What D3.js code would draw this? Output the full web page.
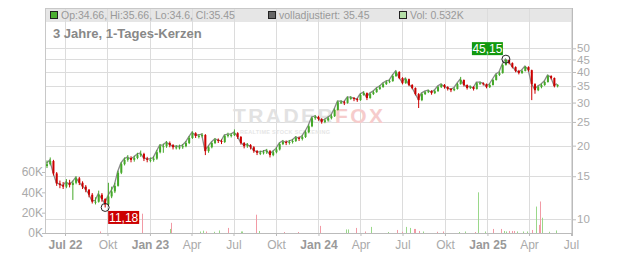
<!DOCTYPE html>
<html>
<head>
<meta charset="utf-8">
<script src="https://cdn.jsdelivr.net/npm/d3@7"></script>
<style>
  html, body { margin: 0; padding: 0; background: #fff; }
  svg { display: block; font-family: Arial, "Liberation Sans", sans-serif; }
</style>
</head>
<body>
<div id="chart"></div>
<script>
// weekly candles (open = previous close)
const candleStart = '2022-05-23';
const firstOpen = 16.5;
const closes = [
  16.8, 17.3, 15.4, 14.0, 13.8, 13.6, 14.1, 13.8, 14.1, 14.7,
  14.1, 13.6, 13.2, 12.6, 11.8, 11.8, 12.6, 12.1, 11.5, 12.4,
  13.0, 13.7, 15.5, 16.8, 17.5, 17.8, 17.5, 17.8, 18.3, 18.5,
  17.7, 17.5, 17.5, 17.7, 18.8, 19.9, 19.9, 20.5, 20.1, 19.7,
  19.7, 19.7, 19.9, 20.5, 21.5, 22.5, 21.9, 21.9, 22.1, 19.0,
  19.7, 20.5, 21.1, 20.9, 20.7, 21.9, 22.1, 22.1, 22.5, 21.7,
  20.5, 19.9, 20.1, 19.7, 19.0, 18.7, 18.7, 18.8, 19.0, 18.3,
  18.8, 19.3, 20.3, 20.7, 20.5, 20.7, 20.9, 21.5, 21.3, 21.7,
  22.7, 24.0, 25.9, 26.2, 25.7, 25.0, 25.4, 25.9, 26.4, 28.0,
  30.1, 30.1, 29.9, 31.3, 31.3, 31.0, 30.7, 32.2, 32.8, 31.3,
  32.5, 33.1, 34.1, 34.7, 35.7, 36.4, 36.7, 38.5, 40.0, 37.8,
  36.0, 37.4, 35.4, 34.4, 32.5, 30.7, 32.5, 33.1, 33.4, 32.8,
  33.4, 34.7, 35.4, 34.7, 34.1, 33.7, 34.1, 35.7, 37.1, 35.4,
  34.4, 34.7, 34.1, 36.0, 36.0, 35.7, 34.7, 35.4, 37.1, 38.9,
  39.6, 42.7, 44.8, 43.5, 41.9, 40.4, 39.6, 40.4, 41.9, 40.7,
  35.7, 33.7, 34.7, 35.4, 36.4, 38.5, 37.8, 35.0, 35.45
];
const highs = [
  17.4, 17.9, 17.5, 15.6, 14.4, 14.2, 14.6, 14.5, 14.4, 15.0,
  14.9, 14.3, 13.8, 13.3, 12.8, 12.3, 13.1, 12.8, 12.2, 14.1,
  13.6, 14.1, 15.8, 17.1, 17.9, 18.3, 18.1, 18.2, 18.7, 19.1,
  18.7, 18.0, 17.9, 18.1, 19.2, 20.3, 20.4, 20.9, 20.8, 20.3,
  20.1, 20.2, 20.3, 20.9, 21.9, 22.9, 22.7, 22.3, 22.5, 22.3,
  20.0, 20.8, 21.5, 21.4, 21.2, 22.2, 22.6, 22.5, 23.3, 22.7,
  21.9, 20.7, 20.5, 20.3, 19.9, 19.2, 19.1, 19.2, 19.4, 19.2,
  19.1, 19.7, 20.6, 21.1, 21.0, 21.1, 21.3, 21.9, 21.8, 22.1,
  23.1, 24.4, 26.3, 26.7, 26.5, 25.9, 25.8, 26.3, 26.9, 28.4,
  30.6, 30.7, 30.5, 31.8, 31.9, 31.6, 31.3, 32.7, 33.4, 33.0,
  32.9, 33.6, 34.6, 35.3, 36.2, 37.0, 37.3, 39.1, 40.6, 40.3,
  38.1, 37.9, 37.6, 35.7, 34.6, 32.8, 32.9, 33.5, 33.9, 33.7,
  33.8, 35.1, 35.9, 35.7, 35.0, 34.4, 34.6, 36.1, 38.2, 37.3,
  35.6, 35.2, 35.0, 36.4, 36.6, 36.3, 35.9, 35.9, 37.5, 39.4,
  40.2, 43.3, 45.15, 45.0, 43.8, 42.2, 40.8, 40.9, 42.4, 42.2,
  40.9, 36.0, 35.2, 35.9, 36.9, 39.0, 38.8, 38.0, 35.66
];
const lows = [
  16.2, 16.6, 15.1, 13.7, 13.4, 13.3, 13.4, 13.5, 12.0, 13.9,
  13.8, 13.3, 12.9, 12.3, 11.6, 11.5, 11.7, 11.8, 11.18, 11.4,
  12.2, 12.8, 13.6, 15.3, 16.6, 17.2, 17.1, 17.2, 17.6, 18.0,
  17.3, 17.1, 17.1, 17.2, 17.5, 18.6, 18.7, 19.6, 19.7, 19.3,
  19.3, 19.3, 19.4, 19.7, 20.3, 21.3, 21.5, 21.4, 21.6, 18.3,
  18.7, 19.5, 20.3, 20.5, 20.3, 20.5, 21.6, 21.6, 21.9, 21.3,
  20.2, 19.5, 19.6, 19.3, 18.7, 18.3, 18.3, 18.4, 18.5, 17.9,
  18.1, 18.6, 19.1, 20.1, 20.1, 20.2, 20.4, 20.7, 20.9, 21.0,
  21.5, 22.5, 23.8, 25.5, 25.3, 24.6, 24.7, 25.1, 25.6, 26.2,
  27.8, 29.6, 29.3, 29.7, 30.8, 30.4, 30.2, 30.5, 32.0, 30.7,
  31.1, 32.2, 32.9, 33.8, 34.5, 35.4, 36.0, 36.5, 38.2, 37.4,
  35.6, 35.8, 35.0, 34.0, 32.1, 28.5, 30.4, 32.2, 32.8, 32.3,
  32.5, 33.2, 34.4, 34.2, 33.6, 33.1, 33.4, 33.9, 35.5, 34.9,
  33.9, 34.1, 33.6, 33.9, 35.5, 35.2, 34.3, 34.4, 35.2, 36.9,
  38.5, 39.4, 42.5, 43.0, 41.4, 39.9, 39.1, 39.3, 40.2, 40.2,
  30.7, 32.6, 33.4, 34.3, 35.1, 36.2, 37.3, 34.6, 34.6
];

// daily volume bars that stand out (in thousands)
const volDates = [
  '2022-09-15', '2022-12-15', '2023-02-13', '2023-02-15', '2023-04-19', '2023-04-25',
  '2023-05-03', '2023-05-19', '2023-05-31', '2023-06-19', '2023-07-17', '2023-07-19',
  '2023-08-18', '2023-08-25', '2023-10-19', '2023-11-17', '2024-01-05', '2024-03-01',
  '2024-03-04', '2024-03-22', '2024-04-11', '2024-04-23', '2024-05-31', '2024-06-19',
  '2024-07-01', '2024-07-08', '2024-07-18', '2024-07-25', '2024-07-29', '2024-08-05',
  '2024-08-15', '2024-09-13', '2024-09-27', '2024-11-01', '2024-11-13', '2024-12-05',
  '2024-12-12', '2024-12-27', '2025-01-13', '2025-01-30', '2025-02-05', '2025-02-11',
  '2025-02-17', '2025-02-24', '2025-02-28', '2025-03-07', '2025-03-18', '2025-03-28',
  '2025-04-07', '2025-04-16', '2025-04-22', '2025-04-25', '2025-04-29', '2025-05-15',
  '2025-05-29'
];
const volValues = [
  1.5, 19, 4, 10, 1.5, 2.3,
  1.5, 1.2, 2.5, 5, 1.5, 1.5,
  18, 2, 1, 1, 7, 3.5,
  3.5, 5, 1.5, 6, 1, 3,
  1.2, 6, 5, 4, 4, 2,
  1.5, 1.2, 1.5, 1, 1.5, 1,
  40, 1.5, 4, 4, 2, 1.5,
  2, 2, 2, 1.5, 1.5, 1.5,
  3, 26, 8, 31, 15, 1.2,
  2.5
];
const volUp = [
  0, 0, 1, 0, 1, 1,
  0, 1, 1, 0, 1, 1,
  0, 1, 0, 0, 0, 1,
  1, 0, 0, 1, 1, 0,
  0, 1, 1, 0, 0, 0,
  1, 0, 0, 1, 1, 0,
  1, 1, 0, 0, 1, 1,
  0, 0, 0, 1, 1, 1,
  0, 1, 0, 0, 1, 1,
  1
];

const priceTicks = [10, 15, 20, 25, 30, 35, 40, 45, 50];
const volTicks = [0, 20, 40, 60];
const monthTicks = ['2022-07-01', '2022-10-01', '2023-01-01', '2023-04-01', '2023-07-01', '2023-10-01',
  '2024-01-01', '2024-04-01', '2024-07-01', '2024-10-01', '2025-01-01', '2025-04-01', '2025-07-01'];
const monthLabels = ['Jul 22', 'Okt', 'Jan 23', 'Apr', 'Jul', 'Okt', 'Jan 24', 'Apr', 'Jul', 'Okt', 'Jan 25', 'Apr', 'Jul'];
const yearLabels = ['Jul 22', 'Jan 23', 'Jan 24', 'Jan 25'];

const lowMark = { date: '2022-09-26', value: 11.18, label: '11,18' };
const highMark = { date: '2025-02-10', value: 45.15, label: '45,15' };

const legendTexts = ['Op:34.66, Hi:35.66, Lo:34.6, Cl:35.45', 'volladjustiert: 35.45', 'Vol: 0.532K'];
const legendColors = ['#4caf32', '#666666', '#b5e0a8'];
const title = '3 Jahre, 1-Tages-Kerzen';

const W = 632, H = 253;
const L = 45, R = 572, T = 8, B = 233;
const UP = '#45a829', DOWN = '#cc0000';

const parse = d3.timeParse('%Y-%m-%d');
const start = parse(candleStart);
const candles = closes.map((c, i) => ({
  date: d3.timeDay.offset(start, 7 * i),
  open: i ? closes[i - 1] : firstOpen,
  close: c,
  high: highs[i],
  low: lows[i]
}));
const vols = volDates.map((d, i) => ({ date: parse(d), v: volValues[i], up: volUp[i] }));

const x = d3.scaleTime().domain([parse('2022-07-01'), parse('2025-07-01')]).range([65, 571]);
const y = d3.scaleLog().domain([10, 50]).range([219.3, 48.3]);
const yv = d3.scaleLinear().domain([0, 60]).range([B, 172]);

const svg = d3.select('#chart').append('svg')
  .attr('width', W).attr('height', H)
  .attr('viewBox', `0 0 ${W} ${H}`);

// header band
svg.append('rect')
  .attr('x', L).attr('y', T).attr('width', R - L).attr('height', 14)
  .attr('fill', '#e6e6e6');

// grid
svg.append('g').selectAll('line')
  .data(monthTicks.map(parse))
  .join('line')
  .attr('x1', d => Math.round(x(d)) + 0.5).attr('x2', d => Math.round(x(d)) + 0.5)
  .attr('y1', T).attr('y2', B)
  .attr('stroke', '#dcdcdc');

svg.append('g').selectAll('line')
  .data(priceTicks)
  .join('line')
  .attr('x1', L).attr('x2', R)
  .attr('y1', d => Math.round(y(d)) + 0.5).attr('y2', d => Math.round(y(d)) + 0.5)
  .attr('stroke', '#dcdcdc');

// frame
svg.append('line').attr('x1', L).attr('x2', R + 0.5).attr('y1', T + 0.5).attr('y2', T + 0.5).attr('stroke', '#c8c8c8');
svg.append('line').attr('x1', L + 0.5).attr('x2', L + 0.5).attr('y1', T).attr('y2', B).attr('stroke', '#c8c8c8');
svg.append('line').attr('x1', R + 0.5).attr('x2', R + 0.5).attr('y1', T).attr('y2', B + 3).attr('stroke', '#bbb');
svg.append('line').attr('x1', L).attr('x2', R + 0.5).attr('y1', B + 0.5).attr('y2', B + 0.5).attr('stroke', '#bbb');

// watermark
const wm = svg.append('g').attr('pointer-events', 'none');
const wmText = wm.append('text')
  .attr('x', 233).attr('y', 123)
  .attr('font-size', 21).attr('font-weight', 'bold')
  .attr('textLength', 150).attr('lengthAdjust', 'spacing');
wmText.append('tspan').attr('fill', '#e2e2e2').text('TRADER');
wmText.append('tspan').attr('fill', '#f6cccc').text('FOX');
wm.append('text')
  .attr('x', 240).attr('y', 134)
  .attr('font-size', 5.5).attr('font-weight', 'bold')
  .attr('fill', '#e6e6e6')
  .attr('textLength', 90).attr('lengthAdjust', 'spacing')
  .text('REALTIME STOCK SCREENING');

// volume
svg.append('g').selectAll('rect')
  .data(vols)
  .join('rect')
  .attr('x', d => Math.round(x(d.date)))
  .attr('width', 1)
  .attr('y', d => yv(d.v))
  .attr('height', d => B - yv(d.v))
  .attr('fill', d => d.up ? '#9ad88a' : '#f29aa5');

// adjusted close line
svg.append('path')
  .datum(candles)
  .attr('fill', 'none')
  .attr('stroke', '#8a8a8a')
  .attr('stroke-width', 1.3)
  .attr('transform', 'translate(-0.5,-1)')
  .attr('d', d3.line().x(d => x(d.date)).y(d => y(d.close)));

// candles
const cg = svg.append('g').selectAll('g')
  .data(candles)
  .join('g')
  .attr('fill', d => d.close >= d.open ? UP : DOWN)
  .attr('stroke', d => d.close >= d.open ? UP : DOWN);

cg.append('line')
  .attr('x1', d => x(d.date)).attr('x2', d => x(d.date))
  .attr('y1', d => y(d.high)).attr('y2', d => y(d.low))
  .attr('stroke-width', 1);

cg.append('rect')
  .attr('stroke', 'none')
  .attr('x', d => x(d.date) - 1)
  .attr('width', 2)
  .attr('y', d => y(Math.max(d.open, d.close)))
  .attr('height', d => Math.max(1, Math.abs(y(d.open) - y(d.close))));

// axes
const xAxis = svg.append('g')
  .attr('transform', `translate(0,${B})`)
  .call(d3.axisBottom(x).tickValues(monthTicks.map(parse)).tickSize(3)
    .tickFormat((d, i) => monthLabels[i]));
xAxis.select('.domain').remove();
xAxis.selectAll('.tick line').attr('stroke', '#bbb');
xAxis.selectAll('.tick text')
  .attr('font-size', 12).attr('font-family', 'Arial, "Liberation Sans", sans-serif')
  .attr('dy', '0.85em')
  .attr('fill', (d, i) => yearLabels.includes(monthLabels[i]) ? '#999' : '#aaa')
  .attr('font-weight', (d, i) => yearLabels.includes(monthLabels[i]) ? 'bold' : 'normal');

const yAxis = svg.append('g')
  .attr('transform', `translate(${R},0)`)
  .call(d3.axisRight(y).tickValues(priceTicks).tickSize(4).tickFormat(d3.format('d')));
yAxis.select('.domain').remove();
yAxis.selectAll('.tick line').attr('stroke', '#bbb');
yAxis.selectAll('.tick text')
  .attr('x', 5)
  .attr('font-size', 11.5).attr('font-family', 'Arial, "Liberation Sans", sans-serif')
  .attr('fill', '#aaa');

const vAxis = svg.append('g')
  .attr('transform', `translate(${L},0)`)
  .call(d3.axisLeft(yv).tickValues(volTicks).tickSize(3).tickFormat(d => d + 'K'));
vAxis.select('.domain').remove();
vAxis.selectAll('.tick line').attr('stroke', '#bbb');
vAxis.selectAll('.tick text')
  .attr('x', -2)
  .attr('font-size', 12).attr('font-family', 'Arial, "Liberation Sans", sans-serif')
  .attr('fill', '#aaa');

// min / max markers
function marker(m, color, above) {
  const cx = x(parse(m.date)), cy = y(m.value);
  svg.append('circle')
    .attr('cx', cx).attr('cy', cy).attr('r', 4)
    .attr('fill', 'none').attr('stroke', '#222').attr('stroke-width', 1);
  const bw = 31, bh = 13;
  const bx = above ? cx - 3 - bw : cx + 3;
  const by = above ? cy - 4 - bh : cy + 3.5;
  svg.append('rect')
    .attr('x', bx).attr('y', by).attr('width', bw).attr('height', bh)
    .attr('fill', color);
  svg.append('text')
    .attr('x', bx + bw / 2).attr('y', by + bh / 2)
    .attr('dy', '0.36em')
    .attr('text-anchor', 'middle')
    .attr('font-size', 12).attr('fill', '#fff')
    .text(m.label);
}
marker(lowMark, '#cc0000', false);
marker(highMark, '#12990f', true);

// legend
const legendX = [50, 268, 399];
legendTexts.forEach((t, i) => {
  svg.append('rect')
    .attr('x', legendX[i] + 0.5).attr('y', 11.5).attr('width', 7).attr('height', 7)
    .attr('fill', legendColors[i]).attr('stroke', '#222');
  svg.append('text')
    .attr('x', legendX[i] + 11).attr('y', 19)
    .attr('font-size', 10.5).attr('fill', '#999')
    .text(t);
});

svg.append('text')
  .attr('x', 53).attr('y', 38)
  .attr('font-size', 13).attr('font-weight', 'bold').attr('fill', '#888')
  .text(title);
</script>
</body>
</html>
